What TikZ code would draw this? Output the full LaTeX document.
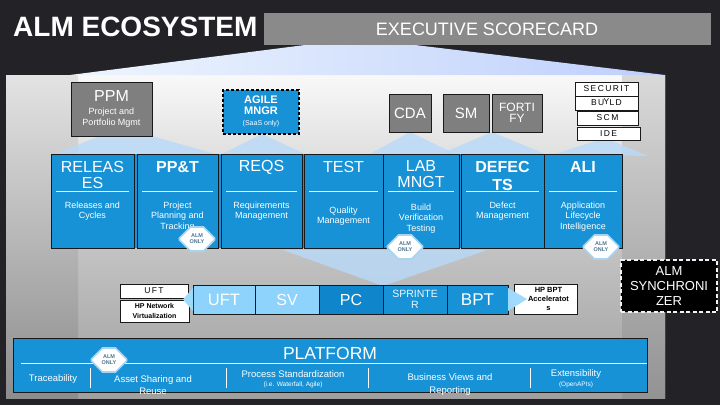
\documentclass[tikz,border=0pt]{standalone}
\usepackage{fontspec}
\setmainfont{Liberation Sans}
\usetikzlibrary{shapes.geometric,shapes.misc}
\definecolor{bgdark}{HTML}{232327}
\definecolor{titlegrey}{HTML}{8A8A8A}
\definecolor{boxgrey}{HTML}{7F7F7F}
\definecolor{bblue}{HTML}{1792D6}
\definecolor{pcblue}{HTML}{0F86CC}
\definecolor{lblue}{HTML}{8DD3FB}
\definecolor{wedge}{HTML}{B8DAF8}
\definecolor{badgeline}{HTML}{A8D4F2}
\definecolor{badgetext}{HTML}{4F7590}
\tikzset{
  box/.style={draw=black!90, line width=0.8pt, inner sep=0pt, outer sep=0pt, anchor=north west},
  bluebox/.style={box, fill=bblue},
  greybox/.style={box, fill=boxgrey},
  whitebox/.style={box, fill=white},
  hdr/.style={text=white, align=center, inner sep=0pt, font=\fontsize{16}{16.5}\selectfont},
  hdrb/.style={hdr, font=\fontsize{16}{18.5}\selectfont\bfseries},
  desc/.style={text=white, align=center, inner sep=0pt, font=\fontsize{9}{10.5}\selectfont},
  small/.style={text=black, align=center, inner sep=0pt, font=\fontsize{7.5}{9}\selectfont\bfseries},
  sepline/.style={draw=white, line width=0.8pt},
  wedgefill/.style={fill=wedge, opacity=0.8},
  badge/.style={chamfered rectangle, chamfered rectangle xsep=7pt, chamfered rectangle ysep=6pt,
    minimum width=35pt, minimum height=24pt, inner sep=0pt, fill=white!95!blue!3, draw=badgeline,
    line width=1.6pt, text=badgetext, align=center, font=\fontsize{5.5}{6}\selectfont\bfseries}
}
\begin{document}
\begin{tikzpicture}[x=1pt,y=-1pt]
\useasboundingbox (0,0) rectangle (720,405);
% background
\fill[bgdark] (0,0) rectangle (720,405);
% main panel
\shade[top color=white!95!gray, bottom color=gray!75, middle color=gray!45] (6,75) rectangle (665,398);
\shade[top color=gray!22, bottom color=gray!90] (6,75) rectangle (78,398);
\shade[top color=gray!30, bottom color=gray!85] (622,75) rectangle (665,398);
% blue wedge below title
\shade[left color=white!75!wedge, right color=wedge!80!blue!60] (70,75) -- (305,45) -- (415,45) -- (665,75) -- cycle;
% title
\node[anchor=west, text=white, inner sep=0pt, font=\fontsize{28}{28}\selectfont\bfseries] (title) at (13,27) {ALM ECOSYSTEM};
\node[fill=titlegrey, minimum width=447pt, minimum height=32pt, inner sep=0pt, anchor=north west] (scbar) at (264,13) {};
\node[text=white, inner sep=0pt, font=\fontsize{18}{18}\selectfont] (sc) at (487,29) {EXECUTIVE SCORECARD};
% wedges from top row to blue row
\fill[wedgefill] (55,154) -- (100,136) -- (152,136) -- (215,154) -- cycle;
\fill[wedgefill] (222,154) -- (262,134) -- (305,154) -- cycle;
\fill[wedgefill] (370,154) -- (410,132) -- (455,154) -- cycle;
\fill[wedgefill] (440,154) -- (492,132) -- (545,154) -- cycle;
\fill[wedgefill] (555,154) -- (605,138) -- (648,156) -- cycle;
% top row
\node[greybox, minimum width=81pt, minimum height=54pt] (ppm) at (71,82) {};
\node[text=white, inner sep=0pt, font=\fontsize{16}{16}\selectfont] (ppmt) at (111.5,96) {PPM};
\node[text=white, inner sep=0pt, align=center, font=\fontsize{9}{11}\selectfont] (ppmd) at (111.5,117.5) {Project and\\Portfolio Mgmt};
\node[box, fill=bblue, draw=black, dashed, dash pattern=on 3pt off 2pt, line width=1.8pt, minimum width=76pt, minimum height=44pt] (agile) at (223,90) {};
\node[text=white, inner sep=0pt, align=center, font=\fontsize{11}{10.5}\selectfont\bfseries] (agilet) at (261,105) {AGILE\\MNGR};
\node[text=white, inner sep=0pt, font=\fontsize{7}{7}\selectfont] (agiled) at (261,124) {(SaaS only)};
\node[greybox, minimum width=42pt, minimum height=38pt] (cda) at (389,94) {};
\node[text=white, inner sep=0pt, font=\fontsize{15}{15}\selectfont] at (cda.center) {CDA};
\node[greybox, minimum width=46pt, minimum height=38pt] (sm) at (443,94) {};
\node[text=white, inner sep=0pt, font=\fontsize{15}{15}\selectfont] at (sm.center) {SM};
\node[greybox, minimum width=50pt, minimum height=38pt] (fort) at (492,94) {};
\node[text=white, inner sep=0pt, align=center, font=\fontsize{12}{11.5}\selectfont] at (fort.center) {FORTI\\FY};
\node[whitebox, minimum width=63pt, minimum height=14pt] (secu) at (575,82) {};
\node[whitebox, minimum width=63pt, minimum height=14pt] (build) at (575,96) {};
\node[whitebox, minimum width=61pt, minimum height=14pt] (scm) at (577,111) {};
\node[whitebox, minimum width=63pt, minimum height=13pt] (ide) at (577,127) {};
\node[small, font=\fontsize{8.5}{9}\selectfont] at (secu.center) {S\,E\,C\,U\,R\,I\,T};
\node[small, font=\fontsize{8.5}{9}\selectfont] at (build.center) {B\,U\,\phantom{I}\,L\,D};
\node[small, font=\fontsize{8.5}{9}\selectfont] at ([yshift=1.5pt]build.center) {Y};
\node[small, font=\fontsize{8.5}{9}\selectfont] at (scm.center) {S\,C\,M};
\node[small, font=\fontsize{8.5}{9}\selectfont] at (ide.center) {I\,D\,E};
% big wedge from blue row to middle row
\fill[wedgefill] (283,250) -- (487,250) -- (383,286) -- cycle;
% blue row
\fill[bblue] (51,154) rectangle (622,248);
\node[bluebox, minimum width=83pt, minimum height=94pt] (rel) at (51,154) {};
\node[bluebox, minimum width=81pt, minimum height=94pt] (ppt) at (137,154) {};
\node[bluebox, minimum width=81pt, minimum height=94pt] (reqs) at (221,154) {};
\node[bluebox, minimum width=79pt, minimum height=94pt] (test) at (304,154) {};
\node[bluebox, minimum width=76pt, minimum height=94pt] (lab) at (383,154) {};
\node[bluebox, minimum width=83pt, minimum height=94pt] (def) at (461,154) {};
\node[bluebox, minimum width=78pt, minimum height=94pt] (ali) at (544,154) {};
\foreach \n in {rel,ppt,reqs,test,lab,def,ali}{
  \draw[sepline] ([xshift=5pt]\n.west |- 0,191) -- ([xshift=-5pt]\n.east |- 0,191);
}
\node[hdr] at (92.5,175) {RELEAS\\ES};
\node[hdrb] at (177.5,167) {PP\&T};
\node[hdr] at (261.5,167) {REQS};
\node[hdr] at (343.5,167) {TEST};
\node[hdr] at (421,174) {LAB\\MNGT};
\node[hdrb] at (502.5,176) {DEFEC\\TS};
\node[hdrb] at (583,167) {ALI};
\node[desc] at (92.5,211) {Releases and\\Cycles};
\node[desc] at (177.5,216.5) {Project\\Planning and\\Tracking};
\node[desc] at (261.5,211) {Requirements\\Management};
\node[desc] at (343.5,216) {Quality\\Management};
\node[desc] at (421,218.5) {Build\\Verification\\Testing};
\node[desc] at (502.5,211) {Defect\\Management};
\node[desc] at (583,216.5) {Application\\Lifecycle\\Intelligence};
% badges
\node[badge] (b1) at (197,239) {ALM\\ONLY};
\node[badge] (b2) at (405,247) {ALM\\ONLY};
\node[badge] (b3) at (601,247) {ALM\\ONLY};
% middle row
\node[whitebox, minimum width=68pt, minimum height=14pt] (uftw) at (120,284) {};
\node[small, font=\fontsize{8.5}{9}\selectfont\mdseries] at (uftw.center) {U\,F\,T};
\node[whitebox, minimum width=69pt, minimum height=22pt] (hpnv) at (120,300) {};
\node[small, font=\fontsize{7}{10}\selectfont\bfseries] at (hpnv.center) {HP Network\\Virtualization};
\node[box, fill=lblue, minimum width=62pt, minimum height=29pt] (uft) at (193,285) {};
\node[box, fill=lblue, minimum width=64pt, minimum height=29pt] (sv) at (255,285) {};
\node[box, fill=pcblue, minimum width=64pt, minimum height=29pt] (pc) at (319,285) {};
\node[box, fill=bblue, minimum width=64pt, minimum height=29pt] (spr) at (383,285) {};
\node[box, fill=bblue, minimum width=61pt, minimum height=29pt] (bpt) at (447,285) {};
\node[text=white, inner sep=0pt, font=\fontsize{16.5}{16}\selectfont] at (uft.center) {UFT};
\node[text=white, inner sep=0pt, font=\fontsize{16}{16}\selectfont] at (sv.center) {SV};
\node[text=white, inner sep=0pt, font=\fontsize{16}{16}\selectfont] at (pc.center) {PC};
\node[text=white!85!lblue, inner sep=0pt, align=center, font=\fontsize{10.5}{11}\selectfont] at (spr.center) {SPRINTE\\R};
\node[text=white, inner sep=0pt, font=\fontsize{17}{17}\selectfont] at (bpt.center) {BPT};
\fill[lblue!85!white] (uft.north west) ++(0,3) -- (183,299.5) -- ([yshift=3pt]uft.south west) -- cycle;
\node[whitebox, minimum width=63pt, minimum height=30pt] (hpbpt) at (514,284) {};
\fill[lblue!85!white] ([yshift=-3pt]bpt.north east) -- (527,299) -- ([yshift=3pt]bpt.south east) -- cycle;
\node[small, font=\fontsize{7.5}{9}\selectfont\bfseries] at ([xshift=3pt]hpbpt.center) {HP BPT\\Acceleratot\\s};
\node[box, fill=black, draw=white!90!gray, line width=2.2pt, dash pattern=on 4pt off 2.5pt, minimum width=96pt, minimum height=52pt] (sync) at (621,260) {};
\node[text=white, inner sep=0pt, align=center, font=\fontsize{13}{15}\selectfont] at (sync.center) {ALM\\SYNCHRONI\\ZER};
% platform
\node[box, fill=bblue, minimum width=634pt, minimum height=54pt] (plat) at (13,338) {};
\node[text=white, inner sep=0pt, font=\fontsize{17.5}{17.5}\selectfont] (platt) at (330,353) {PLATFORM};
\draw[sepline] (21,363) -- (plat.east |- 0,363);
\foreach \xx in {90,226,368,530}{ \draw[sepline] (\xx,368) -- (\xx,388); }
\node[desc, font=\fontsize{9.5}{12.5}\selectfont] at (53,379) {Traceability};
\node[desc, font=\fontsize{9.5}{12.5}\selectfont] at (153,385) {Asset Sharing and\\Reuse};
\node[desc, font=\fontsize{9.5}{12.5}\selectfont] at (293,374) {Process Standardization};
\node[desc, font=\fontsize{6.5}{7}\selectfont] at (293,385) {(i.e. Waterfall, Agile)};
\node[desc, font=\fontsize{9.5}{12.5}\selectfont] at (450,384.5) {Business Views and\\Reporting};
\node[desc, font=\fontsize{9.5}{12.5}\selectfont] at (576,374) {Extensibility};
\node[desc, font=\fontsize{6.5}{7}\selectfont] at (576,385) {(OpenAPIs)};
\node[badge] (b4) at (109,360) {ALM\\ONLY};
\end{tikzpicture}
\end{document}
